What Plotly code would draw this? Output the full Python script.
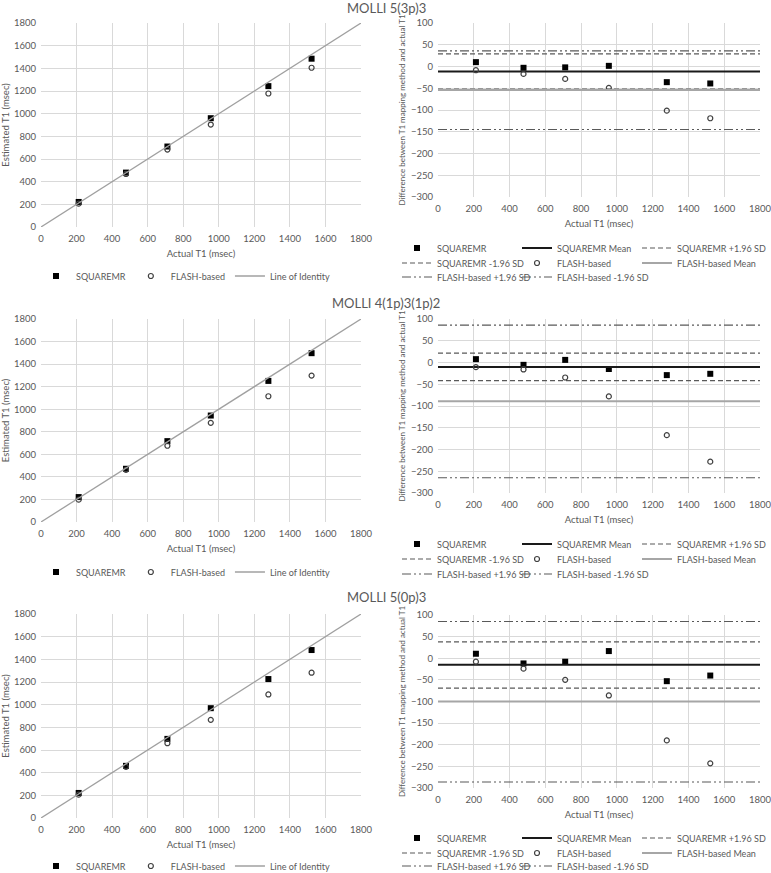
import plotly.graph_objects as go

W, H = 771, 873

# ---------------- data ----------------
ACTUAL_T1 = [212, 478, 711, 955, 1279, 1522]
IDENTITY = [0, 1800]

PANEL_TITLES = ["MOLLI 5(3p)3", "MOLLI 4(1p)3(1p)2", "MOLLI 5(0p)3"]

# Estimated T1 (left panels)
EST_SQ_5_3_3 = [221, 480, 710, 960, 1243, 1485]
EST_FL_5_3_3 = [206, 468, 683, 904, 1178, 1405]
EST_SQ_4_1_3_1_2 = [221, 472, 717, 944, 1251, 1497]
EST_FL_4_1_3_1_2 = [198, 463, 676, 879, 1115, 1298]
EST_SQ_5_0_3 = [221, 460, 698, 969, 1226, 1482]
EST_FL_5_0_3 = [206, 451, 660, 866, 1090, 1282]

# Differences (right panels)
DIFF_SQ_5_3_3 = [10, -3, -2, 1.5, -36, -39]
DIFF_FL_5_3_3 = [-8.5, -17, -28.5, -49, -101.5, -119]
DIFF_SQ_4_1_3_1_2 = [7.7, -5.4, 6, -15, -29, -26]
DIFF_FL_4_1_3_1_2 = [-10.7, -16, -34.5, -78, -167, -228]
DIFF_SQ_5_0_3 = [10.4, -12, -8, 16.6, -53, -40]
DIFF_FL_5_0_3 = [-8, -24, -50, -86, -190, -243]

# Bland-Altman lines: [SQ mean, SQ +1.96SD, SQ -1.96SD, FL mean, FL +1.96SD, FL -1.96SD]
LINES_5_3_3 = [-11.5, 29, -52, -54, 36, -145]
LINES_4_1_3_1_2 = [-10.3, 21.5, -41.5, -89, 86, -265]
LINES_5_0_3 = [-15, 38, -69, -100, 85, -286]

X_RANGE = [0, 1800]

# ---------------- style ----------------
FONT = "Lato, 'Open Sans', sans-serif"
TXT = "#595959"
GRID = "#d9d9d9"


def px_x(p):
    return p / W


def px_y(p):
    return 1 - p / H


fig = go.Figure()

panels = [
    dict(title=PANEL_TITLES[0], ly=(23, 227), ry=(23, 197), ty=8,
         lleg=276, rleg=(248, 263, 277),
         est_sq=EST_SQ_5_3_3, est_fl=EST_FL_5_3_3,
         d_sq=DIFF_SQ_5_3_3, d_fl=DIFF_FL_5_3_3, lines=LINES_5_3_3),
    dict(title=PANEL_TITLES[1], ly=(319, 522), ry=(319, 493), ty=303,
         lleg=572, rleg=(544, 559, 574),
         est_sq=EST_SQ_4_1_3_1_2, est_fl=EST_FL_4_1_3_1_2,
         d_sq=DIFF_SQ_4_1_3_1_2, d_fl=DIFF_FL_4_1_3_1_2, lines=LINES_4_1_3_1_2),
    dict(title=PANEL_TITLES[2], ly=(614, 818), ry=(615, 788), ty=597,
         lleg=866, rleg=(838, 853, 866),
         est_sq=EST_SQ_5_0_3, est_fl=EST_FL_5_0_3,
         d_sq=DIFF_SQ_5_0_3, d_fl=DIFF_FL_5_0_3, lines=LINES_5_0_3),
]

layout = {}
annotations = []
sq_marker = dict(symbol="square", size=6, color="black")
fl_marker = dict(symbol="circle-open", size=5, color="#404040", line=dict(width=1.2, color="#404040"))

TICKFONT = dict(size=9.5, color=TXT, family=FONT)
TITLEFONT = dict(size=9.5, color=TXT, family=FONT)
LEGFONT = dict(size=9, color=TXT, family=FONT)

for i, p in enumerate(panels):
    la = 2 * i + 1
    ra = 2 * i + 2
    lx = "x" if la == 1 else f"x{la}"
    lyn = "y" if la == 1 else f"y{la}"
    rx = f"x{ra}"
    ryn = f"y{ra}"
    leg_l = "legend" if i == 0 else f"legend{4 * i + 1}"
    leg_r = [f"legend{4 * i + 2}", f"legend{4 * i + 3}", f"legend{4 * i + 4}"]

    # left: estimated vs actual
    fig.add_trace(go.Scatter(x=ACTUAL_T1, y=p["est_sq"], mode="markers", name="SQUAREMR",
                             marker=sq_marker, xaxis=lx, yaxis=lyn, legend=leg_l))
    fig.add_trace(go.Scatter(x=ACTUAL_T1, y=p["est_fl"], mode="markers", name="FLASH-based",
                             marker=fl_marker, xaxis=lx, yaxis=lyn, legend=leg_l))
    fig.add_trace(go.Scatter(x=IDENTITY, y=IDENTITY, mode="lines", name="Line of Identity",
                             line=dict(color="#a0a0a0", width=1.3), xaxis=lx, yaxis=lyn, legend=leg_l))

    # right: Bland-Altman
    L = p["lines"]

    def hline(val, name, color, width, dash, leg, lw=None):
        fig.add_trace(go.Scatter(x=X_RANGE, y=[val, val], mode="lines", name=name,
                                 line=dict(color=color, width=width, dash=dash),
                                 xaxis=rx, yaxis=ryn, legend=leg, legendwidth=lw))

    fig.add_trace(go.Scatter(x=ACTUAL_T1, y=p["d_sq"], mode="markers", name="SQUAREMR",
                             marker=sq_marker, xaxis=rx, yaxis=ryn, legend=leg_r[0]))
    hline(L[0], "SQUAREMR Mean", "#1a1a1a", 2, "solid", leg_r[0])
    hline(L[1], "SQUAREMR +1.96 SD", "#595959", 1.2, "5px,3px", leg_r[0], lw=100)
    hline(L[2], "SQUAREMR -1.96 SD", "#595959", 1.2, "5px,3px", leg_r[1])
    fig.add_trace(go.Scatter(x=ACTUAL_T1, y=p["d_fl"], mode="markers", name="FLASH-based",
                             marker=fl_marker, xaxis=rx, yaxis=ryn, legend=leg_r[1]))
    hline(L[3], "FLASH-based Mean", "#a6a6a6", 2, "solid", leg_r[1], lw=100)
    hline(L[4], "FLASH-based +1.96 SD", "#595959", 1.1, "9px,3px,2px,3px,2px,3px", leg_r[2])
    hline(L[5], "FLASH-based -1.96 SD", "#595959", 1.1, "9px,3px,2px,3px,2px,3px", leg_r[2], lw=100)

    axis_common = dict(showgrid=True, gridcolor=GRID, gridwidth=1, zeroline=False,
                       showline=False, ticks="", tickfont=TICKFONT, ticklabeloverflow="allow")

    xkey_l = "xaxis" if la == 1 else f"xaxis{la}"
    ykey_l = "yaxis" if la == 1 else f"yaxis{la}"
    layout[xkey_l] = dict(domain=[px_x(41), px_x(361)], range=X_RANGE, dtick=200, anchor=lyn,
                          ticklabelstandoff=4,
                          title=dict(text="Actual T1 (msec)", font=TITLEFONT, standoff=7),
                          **axis_common)
    layout[ykey_l] = dict(domain=[px_y(p["ly"][1]), px_y(p["ly"][0])], range=[0, 1800], dtick=200, anchor=lx,
                          ticklabelstandoff=4,
                          title=dict(text="Estimated T1 (msec)", font=TITLEFONT, standoff=4),
                          **axis_common)
    layout[f"xaxis{ra}"] = dict(domain=[px_x(438), px_x(760)], range=X_RANGE, dtick=200, anchor=ryn,
                                ticklabelstandoff=4,
                                title=dict(text="Actual T1 (msec)", font=TITLEFONT, standoff=7),
                                **axis_common)
    layout[f"yaxis{ra}"] = dict(domain=[px_y(p["ry"][1]), px_y(p["ry"][0])], range=[-300, 100], dtick=50, anchor=rx,
                                ticklabelstandoff=4,
                                title=dict(text="Difference between T1 mapping method and actual T1",
                                           font=dict(size=8, color=TXT, family=FONT), standoff=4),
                                **axis_common)

    layout[leg_l] = dict(orientation="h", x=px_x(186), xanchor="center", y=px_y(p["lleg"]), yanchor="middle",
                         font=LEGFONT, bgcolor="rgba(0,0,0,0)", itemwidth=30)
    for j, ly in enumerate(p["rleg"]):
        layout[leg_r[j]] = dict(orientation="h", x=px_x(397), xanchor="left", y=px_y(ly), yanchor="middle",
                                font=LEGFONT, bgcolor="rgba(0,0,0,0)", entrywidth=75, entrywidthmode="pixels")

    annotations.append(dict(text=p["title"], x=px_x(386), y=px_y(p["ty"]), xref="paper", yref="paper",
                            xanchor="center", yanchor="middle", showarrow=False,
                            font=dict(size=13, color=TXT, family=FONT)))

fig.update_layout(**layout)
fig.update_layout(
    width=W, height=H,
    margin=dict(l=0, r=0, t=0, b=0, autoexpand=False),
    paper_bgcolor="white", plot_bgcolor="white",
    font=dict(family=FONT, color=TXT),
    annotations=annotations,
)

fig.write_html("out.html", config={"displayModeBar": False},
               post_script="document.body.style.margin='0px';")
